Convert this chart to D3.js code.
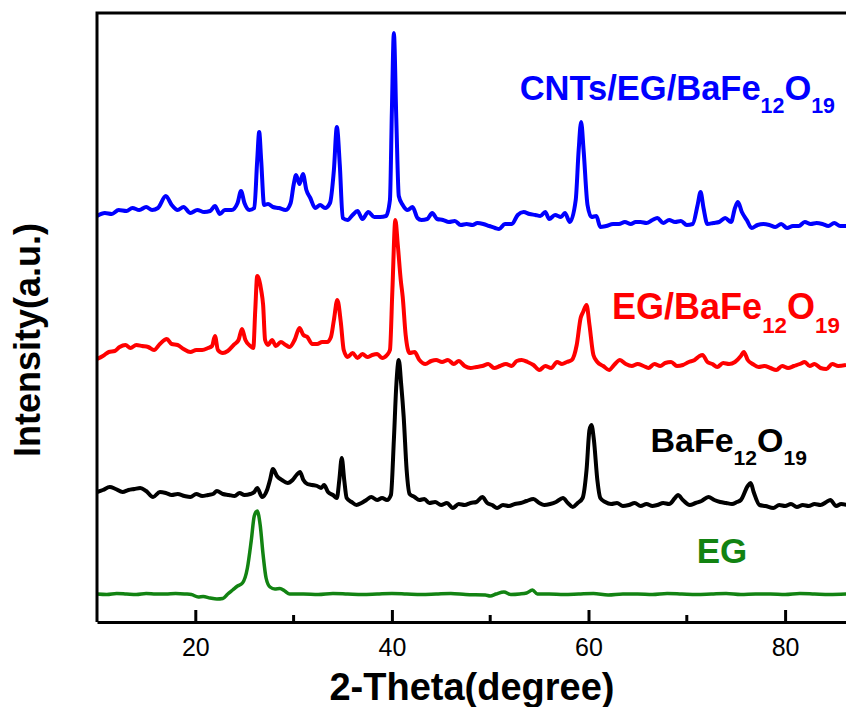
<!DOCTYPE html>
<html>
<head>
<meta charset="utf-8">
<script src="https://cdn.jsdelivr.net/npm/d3@7"></script>
<style>
  body { margin: 0; background: #fff; }
  svg { display: block; font-family: Arial, "Liberation Sans", sans-serif; }
</style>
</head>
<body>
<div id="chart"></div>
<script>
// XRD patterns, [2-theta (deg), intensity (a.u., stacked)]
const cnts = [
  [10.0,406],[10.8,409],[11.5,408],[12.2,412],[13.0,411],[13.6,414],[14.3,412],[15.0,415],[15.6,412],[16.2,414],
  [17.0,426],[17.6,417],[18.2,412],[18.8,415],[19.5,409],[20.2,412],[20.9,410],[21.5,411],[22.0,416],[22.5,408],
  [23.0,412],[23.7,412],[24.3,419],[24.65,431],[25.0,419],[25.5,412],[26.0,414],[26.3,462],[26.5,490],[26.7,462],
  [27.0,417],[27.4,418],[27.9,415],[28.5,414],[29.2,412],[29.7,419],[30.0,437],[30.25,447],[30.6,438],[30.95,448],
  [31.3,432],[31.7,424],[32.2,414],[32.7,417],[33.2,414],[33.7,419],[34.1,452],[34.4,495],[34.7,457],[35.0,404],
  [35.5,402],[36.0,407],[36.5,411],[37.0,403],[37.6,410],[38.2,405],[38.8,405],[39.4,406],[39.8,422],[40.0,512],
  [40.2,589],[40.45,502],[40.7,426],[41.1,417],[41.6,412],[42.1,415],[42.6,404],[43.0,402],[43.6,403],[44.1,409],
  [44.6,403],[45.2,402],[45.8,400],[46.4,401],[47.0,397],[47.6,398],[48.2,397],[48.7,399],[49.3,398],[49.9,396],
  [50.5,394],[50.9,393],[51.5,398],[52.2,398],[52.8,407],[53.4,410],[54.0,408],[54.6,407],[55.1,406],[55.6,410],
  [56.0,403],[56.6,407],[57.2,405],[57.6,409],[58.1,400],[58.7,422],[59.0,472],[59.25,500],[59.5,472],[59.9,417],
  [60.3,405],[60.8,406],[61.2,395],[61.8,396],[62.5,398],[63.1,398],[63.7,400],[64.3,398],[64.8,400],[65.3,400],
  [65.9,399],[66.5,402],[67.0,404],[67.6,399],[68.2,402],[68.8,400],[69.4,401],[70.0,397],[70.6,398],[71.1,417],
  [71.4,430],[71.7,414],[72.1,398],[72.7,399],[73.3,400],[73.9,404],[74.5,400],[74.9,414],[75.2,420],[75.6,410],
  [76.1,402],[76.6,394],[77.2,397],[77.8,398],[78.4,397],[79.0,395],[79.6,398],[80.2,394],[80.8,396],[81.4,396],
  [82.0,400],[82.6,398],[83.2,399],[83.8,398],[84.4,396],[85.0,399],[85.6,396],[86.3,396]
];
const egBaFe = [
  [10.0,263],[10.6,266],[11.2,270],[11.8,271],[12.3,275],[12.9,277],[13.4,274],[14.0,277],[14.6,276],[15.2,275],
  [15.8,272],[16.4,278],[17.1,283],[17.6,278],[18.2,277],[18.8,273],[19.5,270],[20.1,272],[20.7,272],[21.3,274],
  [21.7,276],[22.0,286],[22.3,272],[22.8,269],[23.3,271],[23.9,277],[24.4,282],[24.75,293],[25.1,282],[25.6,276],
  [25.9,274],[26.1,312],[26.3,346],[26.5,342],[26.7,332],[26.9,317],[27.1,282],[27.4,277],[27.8,282],[28.2,276],
  [28.7,280],[29.2,277],[29.6,275],[30.1,282],[30.6,294],[31.0,287],[31.4,285],[31.9,278],[32.4,278],[32.9,280],
  [33.4,280],[33.8,285],[34.1,302],[34.45,322],[34.8,300],[35.1,272],[35.5,265],[36.0,269],[36.5,264],[37.0,268],
  [37.5,265],[38.0,267],[38.5,268],[39.0,264],[39.5,267],[39.8,272],[40.05,332],[40.35,402],[40.6,377],[40.9,342],
  [41.1,325],[41.4,287],[41.8,269],[42.3,270],[42.8,262],[43.4,258],[44.0,261],[44.5,262],[45.1,260],[45.7,262],
  [46.3,258],[46.8,261],[47.4,256],[48.0,254],[48.6,255],[49.2,256],[49.8,258],[50.4,254],[51.0,256],[51.6,258],
  [52.2,256],[52.7,261],[53.2,262],[53.8,260],[54.4,257],[55.0,252],[55.6,256],[56.2,254],[56.8,260],[57.3,258],
  [57.8,260],[58.3,262],[58.8,277],[59.2,304],[59.45,310],[59.8,317],[60.1,297],[60.5,267],[60.9,260],[61.5,256],
  [62.1,252],[62.6,257],[63.2,262],[63.8,258],[64.4,256],[65.0,258],[65.6,256],[66.1,254],[66.7,258],[67.3,256],
  [67.8,259],[68.4,260],[69.0,256],[69.6,257],[70.2,260],[70.8,262],[71.3,266],[71.6,267],[72.1,260],[72.6,258],
  [73.1,255],[73.7,259],[74.3,258],[74.9,260],[75.5,266],[75.8,270],[76.2,262],[76.7,258],[77.3,255],[77.9,256],
  [78.5,254],[79.1,252],[79.7,256],[80.3,254],[80.9,256],[81.5,258],[82.0,260],[82.5,256],[83.0,258],[83.6,254],
  [84.2,253],[84.8,258],[85.4,256],[86.2,257]
];
const baFe = [
  [10.0,130],[10.6,132],[11.3,135],[11.9,133],[12.6,130],[13.2,132],[13.8,133],[14.4,134],[15.0,131],[15.7,125],
  [16.4,130],[17.0,129],[17.6,127],[18.2,128],[18.9,126],[19.5,125],[20.1,128],[20.7,126],[21.3,127],[21.8,128],
  [22.2,131],[22.8,128],[23.4,127],[24.0,126],[24.5,129],[25.0,127],[25.6,128],[26.0,130],[26.3,134],[26.8,125],
  [27.3,132],[27.6,142],[27.9,153],[28.3,146],[28.8,142],[29.4,139],[29.9,142],[30.3,147],[30.65,150],[31.0,142],
  [31.4,138],[31.9,137],[32.4,136],[32.8,134],[33.1,137],[33.5,130],[34.0,127],[34.4,124],[34.65,142],[34.9,164],
  [35.15,142],[35.4,124],[35.9,120],[36.4,117],[36.9,119],[37.4,122],[37.9,125],[38.5,122],[39.0,124],[39.5,122],
  [39.9,127],[40.2,182],[40.45,237],[40.7,262],[40.95,237],[41.2,205],[41.5,152],[41.8,128],[42.3,125],[42.8,122],
  [43.3,123],[43.8,119],[44.4,120],[45.0,117],[45.6,119],[46.2,114],[46.8,118],[47.4,117],[48.0,119],[48.6,120],
  [49.2,125],[49.7,119],[50.2,117],[50.7,114],[51.3,117],[51.9,116],[52.5,118],[53.1,119],[53.7,121],[54.4,123],
  [55.0,119],[55.5,117],[56.1,118],[56.7,120],[57.4,124],[57.9,119],[58.4,115],[58.9,119],[59.4,124],[59.8,152],
  [60.1,192],[60.3,197],[60.55,182],[60.9,142],[61.2,124],[61.7,120],[62.3,118],[62.9,119],[63.5,116],[64.1,117],
  [64.7,119],[65.3,116],[65.9,118],[66.5,116],[67.0,117],[67.6,119],[68.2,118],[68.8,124],[69.1,127],[69.6,122],
  [70.3,117],[70.9,119],[71.5,121],[72.2,125],[72.8,122],[73.4,120],[74.0,119],[74.6,118],[75.1,120],[75.5,122],
  [76.2,136],[76.5,139],[76.8,130],[77.4,117],[78.0,116],[78.8,114],[79.4,117],[80.0,116],[80.6,118],[81.2,115],
  [81.8,117],[82.4,116],[83.0,118],[83.6,117],[84.2,120],[84.6,122],[85.2,116],[85.7,118],[86.3,117]
];
const eg = [
  [10,28],[11,27.5],[12,28.5],[13,28],[14,27.5],[15,28.5],[16,28],[17,28],[18,28.5],[19,28],
  [19.6,27.5],[20.3,25],[20.8,25.5],[21.5,24],[22.2,23],[22.8,23.5],[23.3,28],[23.8,32],[24.3,36],[24.8,39],
  [25.3,54],[25.7,82],[26.0,106],[26.3,111],[26.6,97],[26.9,67],[27.2,44],[27.6,35],[28.1,33],[28.6,33.5],
  [29.1,31],[29.6,28],[31,28],[32.5,27.5],[34,28.5],[35.5,28],[37,27.5],[38.5,28],[40,28.5],[41.5,28],
  [43,27.5],[44.5,28],[46,28.5],[47.5,27.5],[49.5,27],[50.0,26],[50.6,28],[51.4,30],[52.1,27.5],[53.0,28],
  [53.7,29],[54.3,32],[54.8,28],[56,28],[57.5,27.5],[59,28],[60.5,28.5],[62,27],[63.5,28],[65,28],
  [66.5,27.5],[68,28.5],[69.5,28],[71,27.5],[72.5,28],[74,28.5],[75.5,27.5],[77,28],[78.5,28],[80,27.5],
  [81.5,28.5],[83,28],[84.5,27.5],[86.3,28]
];

const seriesNames = ["CNTs/EG/BaFe12O19", "EG/BaFe12O19", "BaFe12O19", "EG"];
const seriesColors = ["#0000ff", "#ff0000", "#000000", "#128312"];
const allSeries = [cnts, egBaFe, baFe, eg];
// label anchors: [2-theta, intensity] and font size
const labelPos = [[53.0, 522], [62.4, 303], [66.3, 170], [71.0, 59]];
const labelSize = [34.5, 36, 34, 35];

const majorTicks = [20, 40, 60, 80];
const minorTicks = [30, 50, 70];

const W = 846, H = 707;
const svg = d3.select("#chart").append("svg").attr("width", W).attr("height", H);

const x = d3.scaleLinear().domain([10, 90]).range([97, 883.4]);
const y = d3.scaleLinear().domain([0, 610]).range([622, 12]);

const plot = svg.append("g");

const line = d3.line()
  .x(d => x(d[0]))
  .y(d => y(d[1]))
  .curve(d3.curveMonotoneX);

plot.selectAll("path.trace")
  .data(allSeries)
  .join("path")
  .attr("class", "trace")
  .attr("d", line)
  .attr("fill", "none")
  .attr("stroke", (d, i) => seriesColors[i])
  .attr("stroke-width", (d, i) => i == 3 ? 3.5 : 4)
  .attr("stroke-linejoin", "round");

// labels with subscripts
seriesNames.forEach((name, i) => {
  let t = svg.append("text")
    .attr("x", x(labelPos[i][0]))
    .attr("y", y(labelPos[i][1]))
    .attr("fill", seriesColors[i])
    .attr("font-weight", "bold")
    .attr("font-size", labelSize[i]);
  let parts = name.match(/[^0-9]+|[0-9]+/g);
  let shifted = false;
  parts.forEach(p => {
    let isNum = /^[0-9]+$/.test(p);
    let s = t.append("tspan").text(p);
    if (isNum) {
      s.attr("font-size", labelSize[i] * 0.62).attr("dy", shifted ? 0 : labelSize[i] * 0.38);
      shifted = true;
    } else if (shifted) {
      s.attr("dy", -labelSize[i] * 0.38);
      shifted = false;
    }
  });
});

// frame
svg.append("path")
  .attr("d", `M${x(10)},${y(0)}V${y(609)}H${x(90)}`)
  .attr("fill", "none")
  .attr("stroke", "#000")
  .attr("stroke-width", 3);

const xAxis = svg.append("g")
  .attr("transform", `translate(0,${y(0)})`)
  .call(d3.axisBottom(x).tickValues(majorTicks).tickSizeInner(-12).tickSizeOuter(0).tickPadding(16));
xAxis.select(".domain").attr("stroke-width", 3);
xAxis.selectAll(".tick line").attr("stroke-width", 3).attr("y1", 0);
xAxis.selectAll(".tick text")
  .attr("font-size", 25)
  .attr("font-family", "Arial, 'Liberation Sans', sans-serif");

svg.append("g")
  .selectAll("line")
  .data(minorTicks)
  .join("line")
  .attr("x1", d => x(d)).attr("x2", d => x(d))
  .attr("y1", y(0)).attr("y2", y(0) - 7)
  .attr("stroke", "#000").attr("stroke-width", 3);

svg.append("text")
  .attr("x", 472).attr("y", 700)
  .attr("text-anchor", "middle")
  .attr("font-weight", "bold")
  .attr("font-size", 38)
  .text("2-Theta(degree)");

svg.append("text")
  .attr("transform", "translate(40,340) rotate(-90)")
  .attr("text-anchor", "middle")
  .attr("font-weight", "bold")
  .attr("font-size", 36)
  .text("Intensity(a.u.)");
</script>
</body>
</html>
